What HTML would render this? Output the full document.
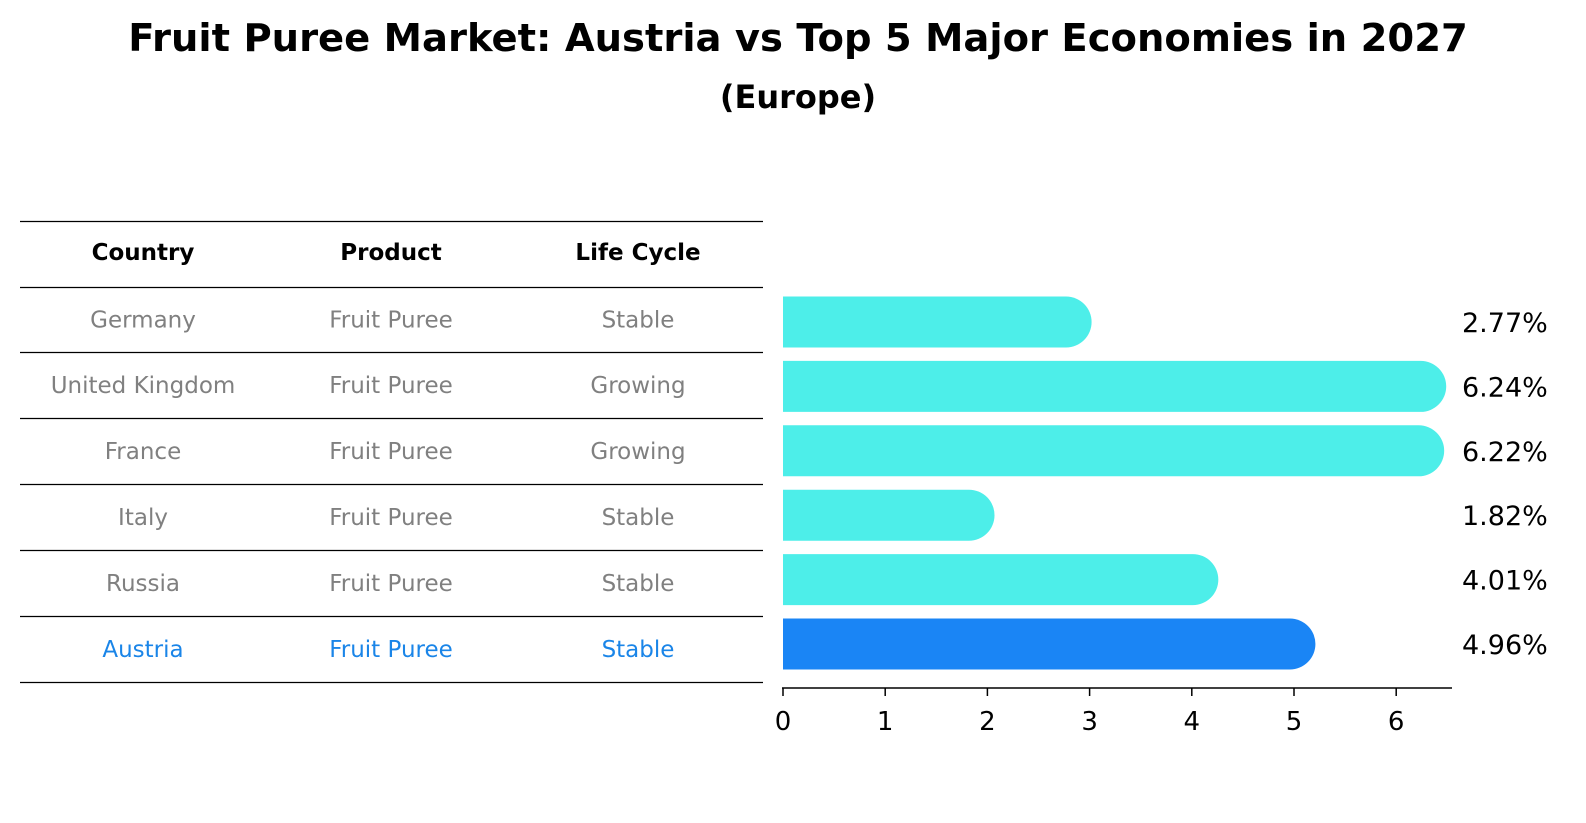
<!DOCTYPE html>
<html><head><meta charset="utf-8"><style>
body{margin:0;background:#fff;font-family:"DejaVu Sans","Liberation Sans",sans-serif;}
#wrap{position:relative;width:1586px;height:823px;overflow:hidden;}
</style></head><body>
<div id="wrap">
<svg id="svg" width="1586" height="823" style="position:absolute;left:0;top:0">
<text x="798" y="51" text-anchor="middle" font-size="38.5" font-weight="bold" font-family="DejaVu Sans,Liberation Sans,sans-serif">Fruit Puree Market: Austria vs Top 5 Major Economies in 2027</text>
<text x="798" y="108" text-anchor="middle" font-size="32" font-weight="bold" font-family="DejaVu Sans,Liberation Sans,sans-serif">(Europe)</text>
</svg>
</div>
<script>
const countries=["Germany","United Kingdom","France","Italy","Russia","Austria"];
const products=["Fruit Puree","Fruit Puree","Fruit Puree","Fruit Puree","Fruit Puree","Fruit Puree"];
const lifeCycles=["Stable","Growing","Growing","Stable","Stable","Stable"];
const values=[2.77,6.24,6.22,1.82,4.01,4.96];
const ticks=[0,1,2,3,4,5,6];
const ns="http://www.w3.org/2000/svg",svg=document.getElementById('svg');
const FF='DejaVu Sans,Liberation Sans,sans-serif';
function mk(tag,attrs,txt){const e=document.createElementNS(ns,tag);for(const k in attrs)e.setAttribute(k,attrs[k]);if(txt!==undefined)e.textContent=txt;svg.appendChild(e);return e;}
const x=v=>783+v*102.2;
const rowY=i=>322+i*64.4;
const lineYs=[221,287,352,418,484,550,616,682];
const cols=[143,391,638];
const hdr=["Country","Product","Life Cycle"];
hdr.forEach((h,j)=>{const e=mk('text',{x:cols[j],y:260,'text-anchor':'middle','font-size':'23','font-weight':'bold','font-family':FF},h);

});
lineYs.forEach((y,i)=>{const e=mk('line',{x1:20,x2:763,y1:y+0.5,y2:y+0.5,stroke:'#000','stroke-width':1.2});

});
countries.forEach((c,i)=>{
 const col=i===5?'#1a85e8':'#808080';
 const cy=(lineYs[i+1]+lineYs[i+2])/2+8;
 [c,products[i],lifeCycles[i]].forEach((t,j)=>{const e=mk('text',{x:cols[j],y:cy,'text-anchor':'middle','font-size':'23',fill:col,'font-family':FF},t);
 
 });
 const y=rowY(i),h=51,r=25.5;
 const fill=i===5?'#1a85f5':'#4deee9';
 const b=mk('path',{d:`M${x(0)},${y-h/2} H${x(values[i])} A${r},${r} 0 0 1 ${x(values[i])},${y+h/2} H${x(0)} Z`,fill:fill});
 
 
 const l=mk('text',{x:1462,y:y+10,'font-size':'27','font-family':FF},values[i].toFixed(2)+'%');
 
 
});
const ax=mk('line',{x1:782,x2:1452,y1:688,y2:688,stroke:'#000','stroke-width':1.5});


ticks.forEach(t=>{const tk=mk('line',{x1:x(t),x2:x(t),y1:688,y2:696,stroke:'#000','stroke-width':1.5});


const tl=mk('text',{x:x(t),y:730,'text-anchor':'middle','font-size':'26','font-family':FF},String(t));

});
</script>
</body></html>
